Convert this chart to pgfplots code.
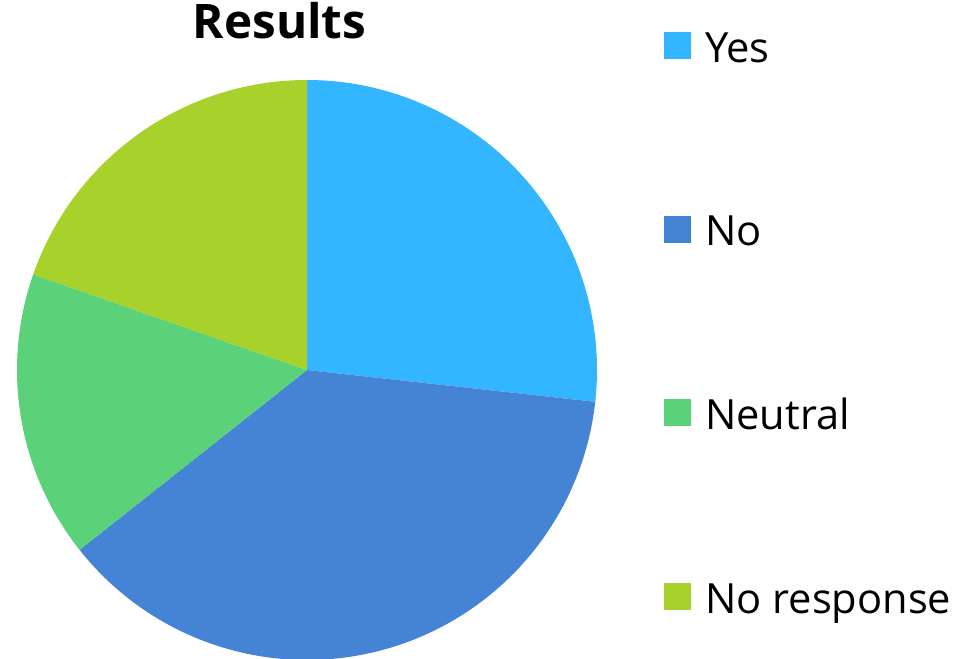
\documentclass[border=0pt]{standalone}
\usepackage{fontspec}
\setmainfont{Open Sans}
\usepackage{pgfplots}
\pgfplotsset{compat=1.18}
\definecolor{cyes}{RGB}{51,181,255}
\definecolor{cno}{RGB}{69,132,212}
\definecolor{cneu}{RGB}{91,209,122}
\definecolor{cnr}{RGB}{168,209,43}
% shares in percent
\def\vYes{26.75}
\def\vNo{37.6}
\def\vNeu{16.0}
\def\vNR{19.65}
\pgfmathsetmacro{\aO}{90}
\pgfmathsetmacro{\aA}{\aO-3.6*\vYes}
\pgfmathsetmacro{\aB}{\aA-3.6*\vNo}
\pgfmathsetmacro{\aC}{\aB-3.6*\vNeu}
\pgfmathsetmacro{\aD}{\aC-3.6*\vNR}
\begin{document}
\begin{tikzpicture}
\begin{axis}[
  x=0.75pt, y=0.75pt,
  xmin=0, xmax=974, ymin=0, ymax=659,
  hide axis, clip=true,
  title={\bfseries Results},
  title style={at={(0.287,0.9287)}, anchor=base, font=\fontsize{35.7}{40}\selectfont, inner sep=0pt},
  legend style={at={(0.6817,0.9522)}, anchor=north west, draw=none, fill=none,
    inner sep=0pt, row sep=112.6pt, column sep=10.5pt,
    font=\fontsize{31.2}{34}\selectfont,
    nodes={inner sep=0pt, text height=0.75em, text depth=0.25em}},
  legend cell align=left,
  legend image code/.code={\fill[#1] (0pt,0pt) rectangle (20.25pt,20.25pt);},
]
\addplot[draw=none, fill=cyes, domain=\aA:\aO, samples=120] ({307+290*cos(x)},{289+290*sin(x)}) -- (axis cs:307,289) -- cycle;
\addlegendentry{Yes}
\addplot[draw=none, fill=cno, domain=\aB:\aA, samples=120] ({307+290*cos(x)},{289+290*sin(x)}) -- (axis cs:307,289) -- cycle;
\addlegendentry{No}
\addplot[draw=none, fill=cneu, domain=\aC:\aB, samples=120] ({307+290*cos(x)},{289+290*sin(x)}) -- (axis cs:307,289) -- cycle;
\addlegendentry{Neutral}
\addplot[draw=none, fill=cnr, domain=\aD:\aC, samples=120] ({307+290*cos(x)},{289+290*sin(x)}) -- (axis cs:307,289) -- cycle;
\addlegendentry{No response}
\end{axis}
\pgfresetboundingbox
\useasboundingbox (current axis.south west) rectangle (current axis.north east);
\end{tikzpicture}
\end{document}
